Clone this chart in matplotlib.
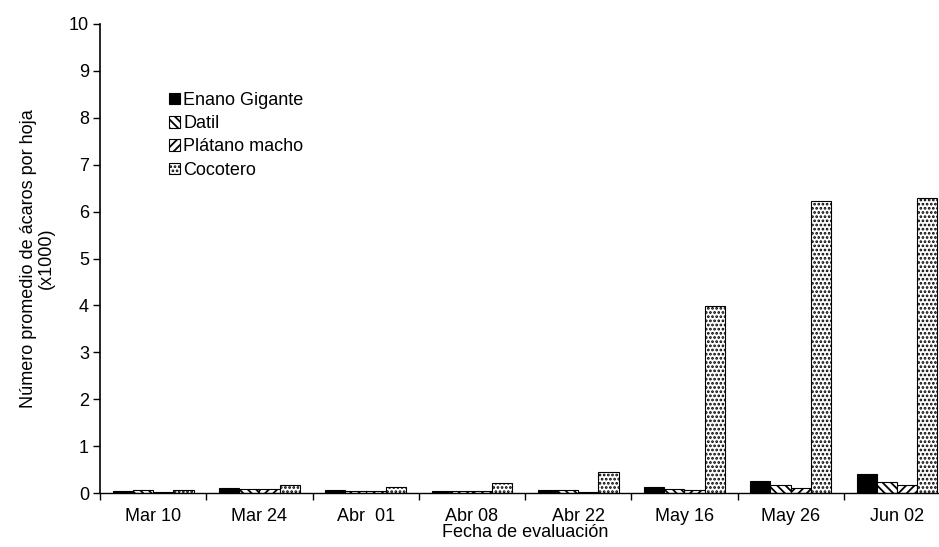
import numpy as np
import matplotlib.pyplot as plt

plt.rcParams['font.family'] = ['Liberation Sans', 'DejaVu Sans']
plt.rcParams['hatch.linewidth'] = 1.3

fechas = ['Mar 10', 'Mar 24', 'Abr  01', 'Abr 08', 'Abr 22', 'May 16', 'May 26', 'Jun 02']
enano = [0.05, 0.10, 0.06, 0.05, 0.07, 0.12, 0.26, 0.40]
datil = [0.06, 0.09, 0.04, 0.05, 0.07, 0.08, 0.16, 0.23]
platano = [0.03, 0.08, 0.04, 0.04, 0.03, 0.07, 0.11, 0.17]
cocotero = [0.06, 0.18, 0.12, 0.22, 0.45, 3.99, 6.22, 6.28]

series = [('Enano Gigante', enano, 'black', ''),
          ('Datil', datil, 'white', '\\\\\\\\'),
          ('Plátano macho', platano, 'white', '////'),
          ('Cocotero', cocotero, 'white', '....')]

fig = plt.figure(figsize=(9.39, 5.47), dpi=100)
ax = fig.add_axes([100/939, 54/547, 850/939, 469/547])

x = np.arange(len(fechas))
w = 0.19
for i, (nombre, vals, fc, h) in enumerate(series):
    ax.bar(x + (i - 1.5) * w, vals, w, color=fc, edgecolor='black',
           hatch=h, linewidth=0.8, label=nombre)

ax.set_xlim(-0.5, len(fechas) - 0.5)
ax.set_ylim(0, 10)
ax.set_yticks(range(0, 11))
ax.set_xticks(x)
ax.set_xticklabels(fechas)
ax.set_xticks(np.arange(-0.5, len(fechas), 1), minor=True)
ax.tick_params(axis='x', which='major', length=0, labelsize=13, pad=11)
ax.tick_params(axis='x', which='minor', length=5, width=1)
ax.tick_params(axis='y', labelsize=13, length=5, width=1, pad=3)
ax.spines['top'].set_visible(False)
ax.spines['right'].set_visible(False)
ax.spines['left'].set_linewidth(1.2)
ax.spines['bottom'].set_linewidth(1.0)

ax.set_xlabel('Fecha de evaluación', fontsize=13, labelpad=-1)
ax.set_ylabel('Número promedio de ácaros por hoja\n(x1000)', fontsize=13,
              labelpad=10, linespacing=1.1)

ax.legend(loc='upper left', bbox_to_anchor=(0.062, 0.89), frameon=False,
          fontsize=13, handlelength=0.6, handleheight=0.6, handletextpad=0.2,
          labelspacing=0.35)

plt.savefig('out.png', dpi=100)
